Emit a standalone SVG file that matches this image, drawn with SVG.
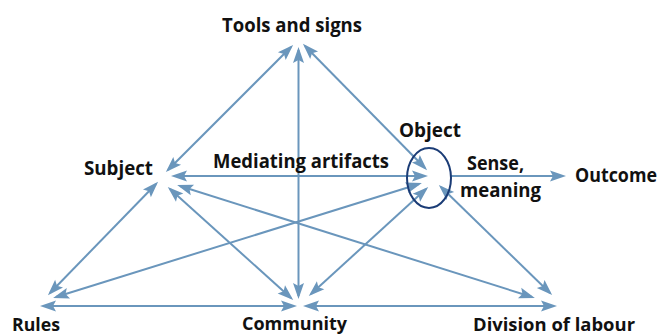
<svg xmlns="http://www.w3.org/2000/svg" width="662" height="336" viewBox="0 0 662 336">
  <style>
    .lbl { font-family: "Open Sans", "Liberation Sans", sans-serif; font-weight: 700; font-size: 19px; fill: #111; }
    .low { font-size: 18px; }
    .con { stroke: #6a96bc; stroke-width: 2; fill: none; }
    .dbl { marker-start: url(#ah); marker-end: url(#ah); }
    .one { marker-end: url(#ah); }
  </style>
  <defs>
    <marker id="ah" viewBox="-14 -7 18 14" refX="0" refY="0" markerWidth="18" markerHeight="14" markerUnits="userSpaceOnUse" orient="auto-start-reverse">
      <path d="M3,0 L-13,-5.5 L-10,0 L-13,5.5 Z" fill="#6a96bc"/>
    </marker>
  </defs>
  <rect width="662" height="336" fill="#fff"/>

  <g id="connectors">
    <line class="con dbl" x1="168" y1="170" x2="291" y2="47"/>
    <line class="con dbl" x1="298.5" y1="50" x2="298.5" y2="296"/>
    <line class="con dbl" x1="305" y1="46" x2="425" y2="168"/>
    <line class="con dbl" x1="174" y1="176" x2="425" y2="176"/>
    <line class="con dbl" x1="156" y1="184" x2="50" y2="293"/>
    <line class="con dbl" x1="170" y1="189" x2="291" y2="298"/>
    <line class="con dbl" x1="180" y1="186" x2="532" y2="297"/>
    <line class="con dbl" x1="419" y1="184" x2="56" y2="297"/>
    <line class="con dbl" x1="426" y1="189" x2="311" y2="294"/>
    <line class="con dbl" x1="441" y1="187" x2="550" y2="293"/>
    <line class="con dbl" x1="43" y1="306" x2="294" y2="306"/>
    <line class="con dbl" x1="306" y1="306" x2="554" y2="306"/>
    <line class="con one" x1="451" y1="176" x2="563" y2="176"/>
  </g>

  <g id="tools"><text class="lbl" x="222" y="31.5" textLength="140" lengthAdjust="spacingAndGlyphs">Tools and signs</text></g>
  <g id="subject"><text class="lbl" x="84" y="175" textLength="69" lengthAdjust="spacingAndGlyphs">Subject</text></g>
  <g id="mediating"><text class="lbl" x="213" y="168" textLength="176" lengthAdjust="spacingAndGlyphs">Mediating artifacts</text></g>
  <g id="object">
    <ellipse cx="429" cy="178" rx="22" ry="30" fill="none" stroke="#1b3c76" stroke-width="2"/>
    <text class="lbl" x="399" y="136.5" textLength="62" lengthAdjust="spacingAndGlyphs">Object</text>
  </g>
  <g id="sense">
    <text class="lbl" x="467" y="170" textLength="57" lengthAdjust="spacingAndGlyphs">Sense,</text>
    <text class="lbl" x="460" y="197" textLength="81" lengthAdjust="spacingAndGlyphs">meaning</text>
  </g>
  <g id="outcome"><text class="lbl" x="575" y="181.5" textLength="82" lengthAdjust="spacingAndGlyphs">Outcome</text></g>
  <g id="rules"><text class="lbl low" x="12" y="331" textLength="48" lengthAdjust="spacingAndGlyphs">Rules</text></g>
  <g id="community"><text class="lbl low" x="242" y="330" textLength="105" lengthAdjust="spacingAndGlyphs">Community</text></g>
  <g id="division"><text class="lbl low" x="473" y="331" textLength="162" lengthAdjust="spacingAndGlyphs">Division of labour</text></g>
</svg>
